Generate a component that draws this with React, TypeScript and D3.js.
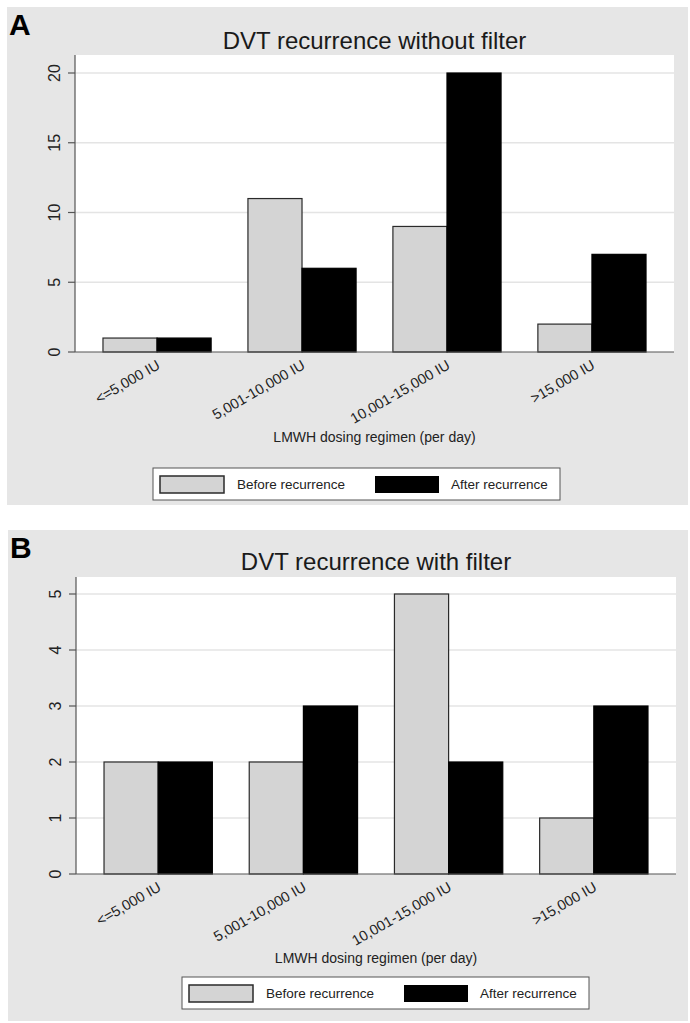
import * as d3 from "d3";
import React from "react";

const categories = ["<=5,000 IU", "5,001-10,000 IU", "10,001-15,000 IU", ">15,000 IU"];
const seriesNames = ["Before recurrence", "After recurrence"];
const beforeA = [1, 11, 9, 2];
const afterA = [1, 6, 20, 7];
const beforeB = [2, 2, 5, 1];
const afterB = [2, 3, 2, 3];
const ticksA = [0, 5, 10, 15, 20];
const ticksB = [0, 1, 2, 3, 4, 5];

const FONT = "'Liberation Sans', Arial, Helvetica, sans-serif";
const fills = ["#d4d4d4", "#000000"];

type PanelProps = {
  letter: string;
  title: string;
  before: number[];
  after: number[];
  ticks: number[];
  bg: { x: number; y: number; w: number; h: number };
  letterY: number;
  titleY: number;
  plot: { left: number; right: number; top: number; bottom: number; topTickY: number };
  xTitleY: number;
  legend: { x: number; y: number };
};

function Panel(p: PanelProps) {
  const { plot } = p;
  const y = d3
    .scaleLinear()
    .domain([0, d3.max(p.ticks) as number])
    .range([plot.bottom, plot.topTickY]);
  const x = d3
    .scaleBand<string>()
    .domain(categories)
    .range([plot.left, plot.right])
    .paddingInner(0.254)
    .paddingOuter(0.193);
  const sub = d3.scaleBand<number>().domain([0, 1]).range([0, x.bandwidth()]);
  const series = [p.before, p.after];
  const cx = (plot.left + plot.right) / 2;

  return (
    <g>
      <rect x={p.bg.x} y={p.bg.y} width={p.bg.w} height={p.bg.h} fill="#e6e6e6" />
      <text x={p.bg.x + 2} y={p.letterY} fontSize={30} fontWeight="bold" fill="#000">
        {p.letter}
      </text>
      <text x={cx} y={p.titleY} fontSize={24} textAnchor="middle" fill="#1a1a1a">
        {p.title}
      </text>
      <rect
        x={plot.left}
        y={plot.top}
        width={plot.right - plot.left}
        height={plot.bottom - plot.top}
        fill="#ffffff"
      />
      {p.ticks
        .filter((t) => t > 0)
        .map((t) => (
          <line
            key={"g" + t}
            x1={plot.left}
            x2={plot.right}
            y1={y(t)}
            y2={y(t)}
            stroke="#e4e4e4"
            strokeWidth={1.5}
          />
        ))}
      {series.map((vals, si) =>
        vals.map((v, ci) => (
          <rect
            key={si + "-" + ci}
            x={(x(categories[ci]) as number) + (sub(si) as number)}
            y={y(v)}
            width={sub.bandwidth()}
            height={y(0) - y(v)}
            fill={fills[si]}
            stroke={si === 0 ? "#2a2a2a" : "#000"}
            strokeWidth={1.2}
          />
        ))
      )}
      <line x1={plot.left} x2={plot.left} y1={plot.top} y2={plot.bottom} stroke="#555" strokeWidth={1.2} />
      <line x1={plot.left} x2={plot.right} y1={plot.bottom} y2={plot.bottom} stroke="#555" strokeWidth={1.2} />
      {p.ticks.map((t) => (
        <g key={"t" + t}>
          <line x1={plot.left - 7} x2={plot.left} y1={y(t)} y2={y(t)} stroke="#555" strokeWidth={1.2} />
          <text
            transform={`translate(${plot.left - 15},${y(t)}) rotate(-90)`}
            textAnchor="middle"
            fontSize={16}
            fill="#222"
          >
            {t}
          </text>
        </g>
      ))}
      {categories.map((c) => (
        <text
          key={c}
          transform={`translate(${(x(c) as number) + x.bandwidth() / 2 + 4},${plot.bottom + 16}) rotate(-30)`}
          textAnchor="end"
          fontSize={14.5}
          fill="#222"
        >
          {c}
        </text>
      ))}
      <text x={cx} y={p.xTitleY} textAnchor="middle" fontSize={14} fill="#222">
        LMWH dosing regimen (per day)
      </text>
      <g transform={`translate(${p.legend.x},${p.legend.y})`}>
        <rect x={0} y={0} width={407} height={32} fill="#fff" stroke="#555" strokeWidth={1} />
        <rect x={7} y={8} width={64} height={17} fill={fills[0]} stroke="#2a2a2a" strokeWidth={1.5} />
        <text x={84} y={21} fontSize={13.5} fill="#222">
          {seriesNames[0]}
        </text>
        <rect x={222} y={8} width={64} height={17} fill={fills[1]} />
        <text x={298} y={21} fontSize={13.5} fill="#222">
          {seriesNames[1]}
        </text>
      </g>
    </g>
  );
}

export default function App() {
  return (
    <svg
      width={690}
      height={1023}
      style={{ position: "absolute", left: 0, top: 0, fontFamily: FONT }}
    >
      <rect x={0} y={0} width={690} height={1023} fill="#fff" />
      <Panel
        letter="A"
        title="DVT recurrence without filter"
        before={beforeA}
        after={afterA}
        ticks={ticksA}
        bg={{ x: 7, y: 7, w: 681, h: 498 }}
        letterY={35}
        titleY={49}
        plot={{ left: 75, right: 674, top: 55, bottom: 352, topTickY: 73 }}
        xTitleY={442}
        legend={{ x: 153, y: 468 }}
      />
      <Panel
        letter="B"
        title="DVT recurrence with filter"
        before={beforeB}
        after={afterB}
        ticks={ticksB}
        bg={{ x: 8, y: 530, w: 680, h: 491 }}
        letterY={558}
        titleY={570}
        plot={{ left: 76, right: 676, top: 577, bottom: 874, topTickY: 594 }}
        xTitleY={963}
        legend={{ x: 182, y: 977 }}
      />
    </svg>
  );
}
